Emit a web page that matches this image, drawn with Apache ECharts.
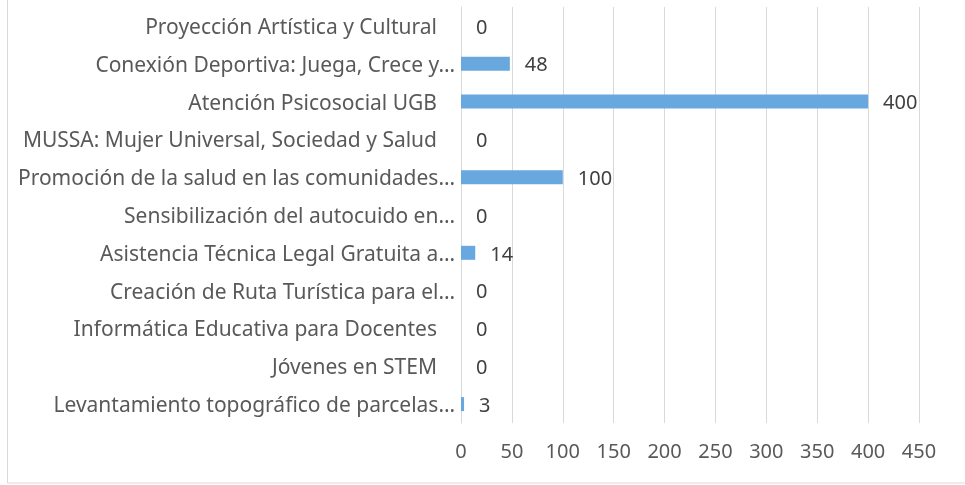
<!DOCTYPE html>
<html>
<head>
    <meta charset="utf-8" />
    <title>Proyectos</title>
    <script src="https://cdn.jsdelivr.net/npm/echarts@6/dist/echarts.min.js"></script>
    <style>
        html, body { margin: 0; padding: 0; background: #fff; }
        #main { width: 965px; height: 485px; }
    </style>
</head>
<body>
<div id="main"></div>
<script>
    // categorias de abajo hacia arriba (eje invertido visualmente por ECharts)
    var categories = [
        'Levantamiento topográfico de parcelas…',
        'Jóvenes en STEM',
        'Informática Educativa para Docentes',
        'Creación de Ruta Turística para el…',
        'Asistencia Técnica Legal Gratuita a…',
        'Sensibilización del autocuido en…',
        'Promoción de la salud en las comunidades…',
        'MUSSA: Mujer Universal, Sociedad y Salud',
        'Atención Psicosocial UGB',
        'Conexión Deportiva: Juega, Crece y…',
        'Proyección Artística y Cultural'
    ];
    var values = [3, 0, 0, 0, 14, 0, 100, 0, 400, 48, 0];
    var tickMin = 0, tickMax = 450, tickStep = 50;

    var font = 'Noto Sans';
    var fs = 20;
    var catFs = 21;
    var chart = echarts.init(document.getElementById('main'));
    chart.setOption({
        animation: false,
        grid: { left: 461, right: 46, top: 7, bottom: 62, containLabel: false },
        graphic: [{
            type: 'rect',
            shape: { x: 7.5, y: -2, width: 970, height: 485 },
            style: { fill: 'none', stroke: '#d9d9d9', lineWidth: 1 },
            silent: true
        }],
        xAxis: {
            type: 'value',
            min: tickMin, max: tickMax, interval: tickStep,
            axisLine: { show: false },
            axisTick: { show: false },
            splitLine: { lineStyle: { color: '#d9d9d9', width: 1 } },
            axisLabel: { color: '#595959', fontFamily: font, fontSize: fs, margin: 19 }
        },
        yAxis: {
            type: 'category',
            data: categories,
            axisLine: { show: true, lineStyle: { color: '#d9d9d9' } },
            axisTick: { show: false },
            axisLabel: {
                color: '#595959', fontFamily: font, fontSize: catFs, margin: 6,
                formatter: function (v) {
                    return v.slice(-1) === '…' ? '{a|' + v + '}' : '{b|' + v + '}';
                },
                rich: {
                    a: { color: '#595959', fontFamily: font, fontSize: catFs, padding: [4, 0, 0, 0] },
                    b: { color: '#595959', fontFamily: font, fontSize: catFs, padding: [4, 18, 0, 0] }
                }
            }
        },
        series: [{
            type: 'bar',
            data: values,
            barWidth: 14,
            itemStyle: { color: '#69a8de' },
            label: {
                show: true, position: 'right', distance: 15, offset: [0, 2],
                color: '#404040', fontFamily: font, fontSize: fs
            }
        }]
    });
</script>
</body>
</html>
